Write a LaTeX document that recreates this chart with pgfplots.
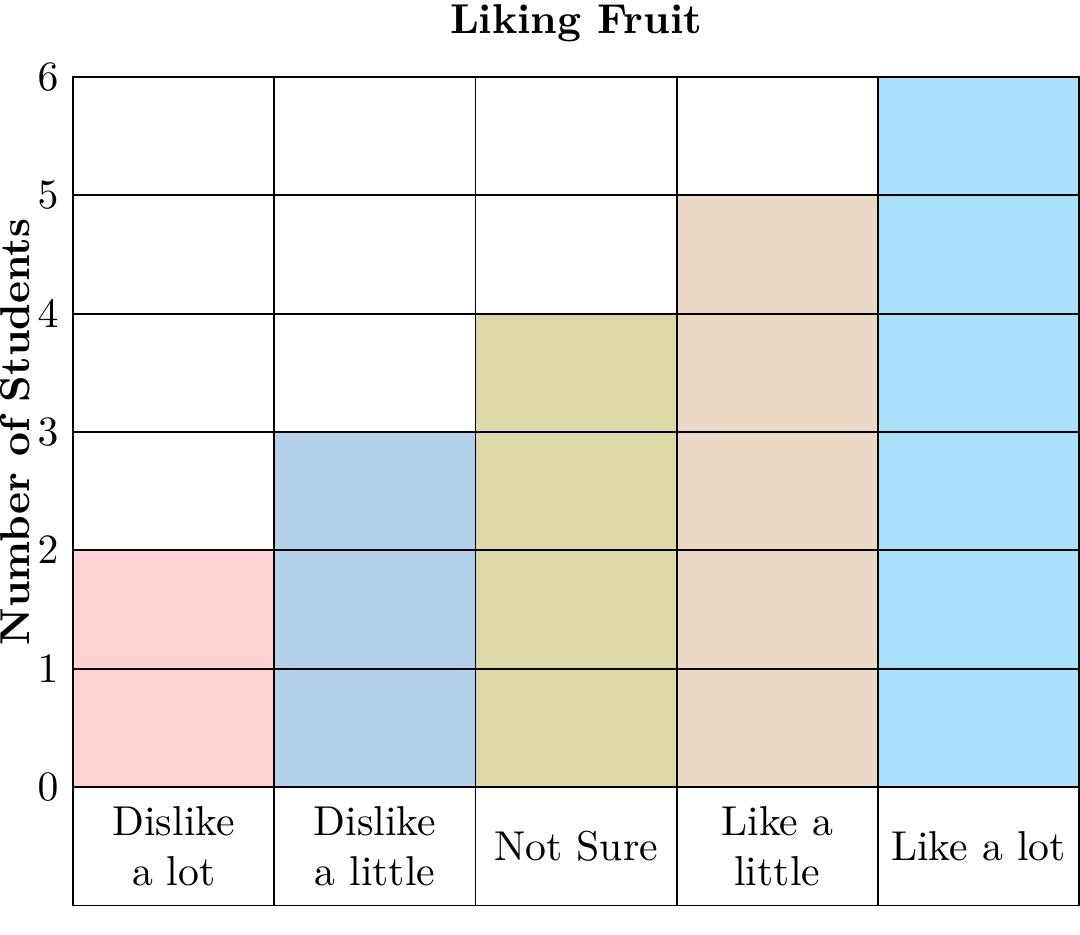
\documentclass[border=0pt]{standalone}
\usepackage{pgfplots}
\pgfplotsset{compat=1.18}
\definecolor{cA}{HTML}{FFD1D4}
\definecolor{cB}{HTML}{B3D1EB}
\definecolor{cC}{HTML}{DED8A8}
\definecolor{cD}{HTML}{EBD9C6}
\definecolor{cE}{HTML}{A9E1FB}
\begin{document}
\begin{tikzpicture}
\begin{axis}[
	scale only axis,
	width=241pt, height=198.5pt,
	xmin=0, xmax=5, ymin=-1, ymax=6,
	xtick={1,2,3,4}, xticklabels={},
	ytick={0,...,6},
	major tick length=0pt,
	grid=major,
	grid style={black, line width=0.45pt},
	axis line style={line width=0.45pt},
	axis on top,
	ybar, bar width=1, bar shift=0pt,
	title={\textbf{Liking Fruit}},
	title style={inner ysep=1pt, yshift=1.3pt},
	ylabel={\textbf{Number of Students}},
	ylabel style={at={(axis description cs:-0.058,0.5714)}, anchor=center, inner sep=0pt},
]
\addplot[fill=cA, draw=black, line width=0.45pt] coordinates {(0.5,2)};
\addplot[fill=cB, draw=black, line width=0.45pt] coordinates {(1.5,3)};
\addplot[fill=cC, draw=black, line width=0.45pt] coordinates {(2.5,4)};
\addplot[fill=cD, draw=black, line width=0.45pt] coordinates {(3.5,5)};
\addplot[fill=cE, draw=black, line width=0.45pt] coordinates {(4.5,6)};
\node[align=center] at (axis cs:0.5,-0.5) {Dislike\\a lot};
\node[align=center] at (axis cs:1.5,-0.5) {Dislike\\a little};
\node[align=center] at (axis cs:2.5,-0.5) {Not Sure};
\node[align=center] at (axis cs:3.5,-0.5) {Like a\\little};
\node[align=center] at (axis cs:4.5,-0.5) {Like a lot};
\end{axis}
\end{tikzpicture}
\end{document}
